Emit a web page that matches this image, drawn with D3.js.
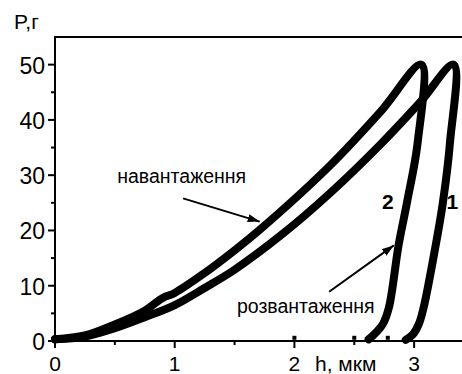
<!DOCTYPE html>
<html>
<head>
<meta charset="utf-8">
<script src="https://cdn.jsdelivr.net/npm/d3@7"></script>
<style>
  body { margin: 0; background: #fff; }
  svg { display: block; font-family: Arial, "Liberation Sans", sans-serif; }
  .tick-label { font-size: 23px; fill: #000; }
  .x-label { font-size: 21px; fill: #000; }
  .note { font-size: 19.5px; fill: #000; }
  .num { font-size: 21px; font-weight: bold; fill: #000; }
</style>
</head>
<body>
<script>
// curve 1 (right loop)
const load1H = [0, 0.25, 0.5, 0.75, 1.0, 1.25, 1.5, 1.88, 2.3, 2.72, 3.05, 3.33]
const load1P = [0.3, 0.8, 2.3, 4.3, 6.5, 9.6, 12.9, 19, 26.8, 35.6, 43.2, 50]
const unload1H = [3.33, 3.30, 3.24, 3.18, 3.08, 3.04, 2.99, 2.93]
const unload1P = [50, 36, 25, 17.3, 6.1, 3.1, 1.2, 0.2]
// curve 2 (left loop)
const load2H = [0, 0.25, 0.5, 0.75, 0.9, 1.0, 1.25, 1.5, 1.72, 2.3, 2.72, 3.06]
const load2P = [0.3, 1.0, 3.0, 5.5, 7.8, 8.7, 12.3, 16.4, 20.3, 31.8, 41.5, 50]
const unload2H = [3.06, 3.03, 2.94, 2.87, 2.79, 2.74, 2.68, 2.62]
const unload2P = [50, 36, 25, 17.3, 6.1, 3.1, 1.5, 0.3]
// stray points near zero
const strayH = [2.0, 2.5, 2.78]
const strayP = [0.4, 0.4, 0.4]

const xTicks = [0, 1, 2, 3]
const xMinor = [0.5, 1.5, 2.5]
const yTicks = [0, 10, 20, 30, 40, 50]
const yMinor = [5, 15, 25, 35, 45]

const width = 462, height = 374
const margin = { top: 37, right: 0, bottom: 33, left: 55 }

const svg = d3.select('body').append('svg').attr('width', width).attr('height', height)

const x = d3.scaleLinear().domain([0, 3.4]).range([margin.left, width - margin.right])
const y = d3.scaleLinear().domain([0, 55]).range([height - margin.bottom, margin.top])

const zip = (hs, ps) => hs.map((h, i) => [h, ps[i]])
const line = d3.line().x(d => x(d[0])).y(d => y(d[1])).curve(d3.curveCatmullRom.alpha(0.5))

const curves = [
    zip(load1H, load1P).concat(zip(unload1H, unload1P).slice(1)),
    zip(load2H, load2P).concat(zip(unload2H, unload2P).slice(1))
]

svg.selectAll('path.curve').data(curves).enter().append('path')
    .attr('class', 'curve')
    .attr('d', line)
    .attr('fill', 'none')
    .attr('stroke', '#000')
    .attr('stroke-width', 8)
    .attr('stroke-linejoin', 'round')
    .attr('stroke-linecap', 'round')

svg.selectAll('rect.stray').data(zip(strayH, strayP)).enter().append('rect')
    .attr('x', d => x(d[0]) - 2).attr('y', d => y(d[1]) - 3)
    .attr('width', 4).attr('height', 4).attr('fill', '#000')

// axes
const x0 = x(0), y0 = y(0)
svg.append('line').attr('x1', x0).attr('x2', width).attr('y1', y0).attr('y2', y0)
    .attr('stroke', '#000').attr('stroke-width', 2)
svg.append('line').attr('x1', x0).attr('x2', x0).attr('y1', y0 + 1).attr('y2', y(55))
    .attr('stroke', '#000').attr('stroke-width', 2)
svg.append('line').attr('x1', x0 - 1).attr('x2', width).attr('y1', y(55)).attr('y2', y(55))
    .attr('stroke', '#000').attr('stroke-width', 2)

svg.selectAll('line.yt').data(yTicks).enter().append('line')
    .attr('x1', x0 - 7).attr('x2', x0).attr('y1', d => y(d)).attr('y2', d => y(d))
    .attr('stroke', '#000').attr('stroke-width', 2)
svg.selectAll('line.ym').data(yMinor).enter().append('line')
    .attr('x1', x0 - 4).attr('x2', x0).attr('y1', d => y(d)).attr('y2', d => y(d))
    .attr('stroke', '#000').attr('stroke-width', 2)
svg.selectAll('line.xt').data(xTicks).enter().append('line')
    .attr('x1', d => x(d)).attr('x2', d => x(d)).attr('y1', y0 - 1).attr('y2', y0 + 7)
    .attr('stroke', '#000').attr('stroke-width', 2)
svg.selectAll('line.xm').data(xMinor).enter().append('line')
    .attr('x1', d => x(d)).attr('x2', d => x(d)).attr('y1', y0).attr('y2', y0 + 4)
    .attr('stroke', '#000').attr('stroke-width', 2)

svg.selectAll('text.yl').data(yTicks).enter().append('text')
    .attr('class', 'tick-label')
    .attr('x', x0 - 10).attr('y', d => y(d) + 9)
    .attr('text-anchor', 'end')
    .text(d => d)
svg.selectAll('text.xl').data(xTicks).enter().append('text')
    .attr('class', 'x-label')
    .attr('x', d => x(d)).attr('y', y0 + 30)
    .attr('text-anchor', 'middle')
    .text(d => d)

svg.append('text').attr('class', 'x-label').attr('x', 14).attr('y', 29).text('P,г')
svg.append('text').attr('class', 'x-label').attr('x', 315).attr('y', y0 + 30).text('h, мкм')

// annotations
svg.append('defs').append('marker')
    .attr('id', 'arrow').attr('viewBox', '0 0 12 8').attr('refX', 12).attr('refY', 4)
    .attr('markerWidth', 12).attr('markerHeight', 8).attr('markerUnits', 'userSpaceOnUse')
    .attr('orient', 'auto')
    .append('path').attr('d', 'M0,0L12,4L0,8Z').attr('fill', '#000')

const arrows = [
    { from: [1.07, 25.8], to: [1.71, 21.6] },
    { from: [2.29, 8.9], to: [2.83, 17.3] }
]
svg.selectAll('line.arrow').data(arrows).enter().append('line')
    .attr('x1', d => x(d.from[0])).attr('y1', d => y(d.from[1]))
    .attr('x2', d => x(d.to[0])).attr('y2', d => y(d.to[1]))
    .attr('stroke', '#000').attr('stroke-width', 2)
    .attr('marker-end', 'url(#arrow)')

svg.append('text').attr('class', 'note').attr('x', x(0.52)).attr('y', y(28.5)).text('навантаження')
svg.append('text').attr('class', 'note').attr('x', x(1.52)).attr('y', y(5.1)).text('розвантаження')
svg.append('text').attr('class', 'num').attr('x', x(2.78)).attr('y', y(23.8)).attr('text-anchor', 'middle').text('2')
svg.append('text').attr('class', 'num').attr('x', x(3.32)).attr('y', y(23.8)).attr('text-anchor', 'middle').text('1')
</script>
</body>
</html>
